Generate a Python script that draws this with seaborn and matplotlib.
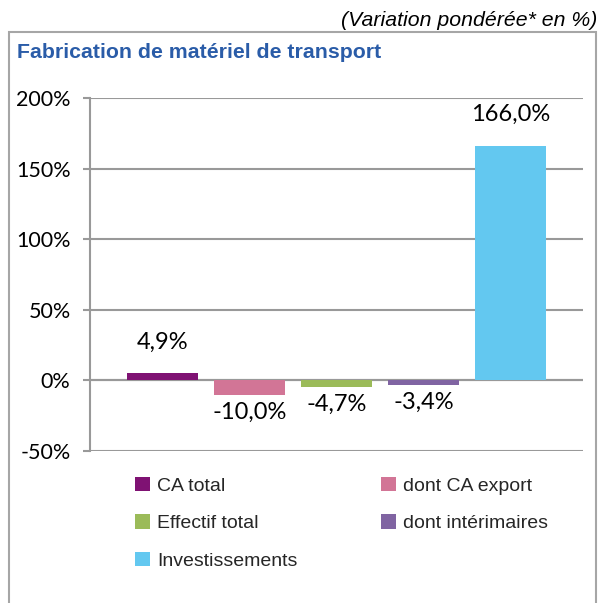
import matplotlib
matplotlib.use("Agg")
import matplotlib.pyplot as plt
from matplotlib.patches import Rectangle, Patch
import seaborn as sns
import pandas as pd

series = ["CA total", "dont CA export", "Effectif total", "dont intérimaires", "Investissements"]
values = [4.9, -10.0, -4.7, -3.4, 166.0]
colors = ["#7F1273", "#D27596", "#9BBB59", "#8064A2", "#63C8F0"]
yticks = [-50, 0, 50, 100, 150, 200]
title = "Fabrication de matériel de transport"
subtitle = "(Variation pondérée* en %)"

df = pd.DataFrame({"group": ["Fabrication"] * len(series), "series": series, "value": values})

sns.set_theme(style="white")
plt.rcParams["font.family"] = ["Lato", "DejaVu Sans"]

fig = plt.figure(figsize=(6, 6.03), dpi=100)
ax = fig.add_axes([90 / 600, 1 - 451 / 603, 493 / 600, 353 / 603])

sns.barplot(data=df, x="group", y="value", hue="series", hue_order=series,
            palette=colors, width=0.882, gap=0.184, saturation=1, ax=ax, legend=False,
            linewidth=0, edgecolor="none")

ax.set_ylim(-50, 200)
ax.set_xlim(-0.5, 0.5)
ax.set_yticks(yticks)
ax.set_yticklabels([f"{v}%" for v in yticks], fontsize=15.5, color="#000000")
ax.set_xticks([])
ax.set_xlabel("")
ax.set_ylabel("")
ax.tick_params(axis="y", direction="out", length=5, width=1.5, color="#999999", pad=9, left=True)
ax.grid(axis="y", color="#999999", linewidth=1.5)
ax.set_axisbelow(True)
for s in ["top", "right", "bottom"]:
    ax.spines[s].set_visible(False)
ax.spines["left"].set_color("#999999")
ax.spines["left"].set_linewidth(1.5)
ax.axhline(0, color="#999999", linewidth=1.5, zorder=0.5)

for cont, v in zip(ax.containers, values):
    lbl = f"{v:.1f}%".replace(".", ",")
    if v >= 0:
        ax.bar_label(cont, labels=[lbl], padding=15, fontsize=17, color="#000000")
    else:
        ax.bar_label(cont, labels=[lbl], padding=5, fontsize=17, color="#000000")

order = [0, 2, 4, 1, 3]
handles = [Patch(facecolor=colors[i], edgecolor="none") for i in order]
labels = [series[i] for i in order]
leg = fig.legend(handles, labels, ncol=2, loc="upper left",
                 bbox_to_anchor=(135 / 600, 1 - 477 / 603), frameon=False,
                 prop={"family": ["Liberation Sans"], "size": 14},
                 borderaxespad=0, borderpad=0,
                 handlelength=0.77, handleheight=0.77, handletextpad=0.36,
                 columnspacing=4.3, labelspacing=1.0)

fig.text(17 / 600, 1 - 53 / 603, title, fontsize=15.3, fontweight="bold",
         color="#2A5CA8", family=["Liberation Sans"], va="center", ha="left")
fig.text(597 / 600, 1 - 20 / 603, subtitle, fontsize=15.3, style="italic",
         color="#000000", family=["Liberation Sans"], va="center", ha="right")

fig.patches.append(Rectangle((9 / 600, -0.05), 587 / 600, 1 - 32 / 603 + 0.05,
                             transform=fig.transFigure, fill=False,
                             edgecolor="#A6A6A6", linewidth=1.5))

fig.savefig("out.png", dpi=100)
